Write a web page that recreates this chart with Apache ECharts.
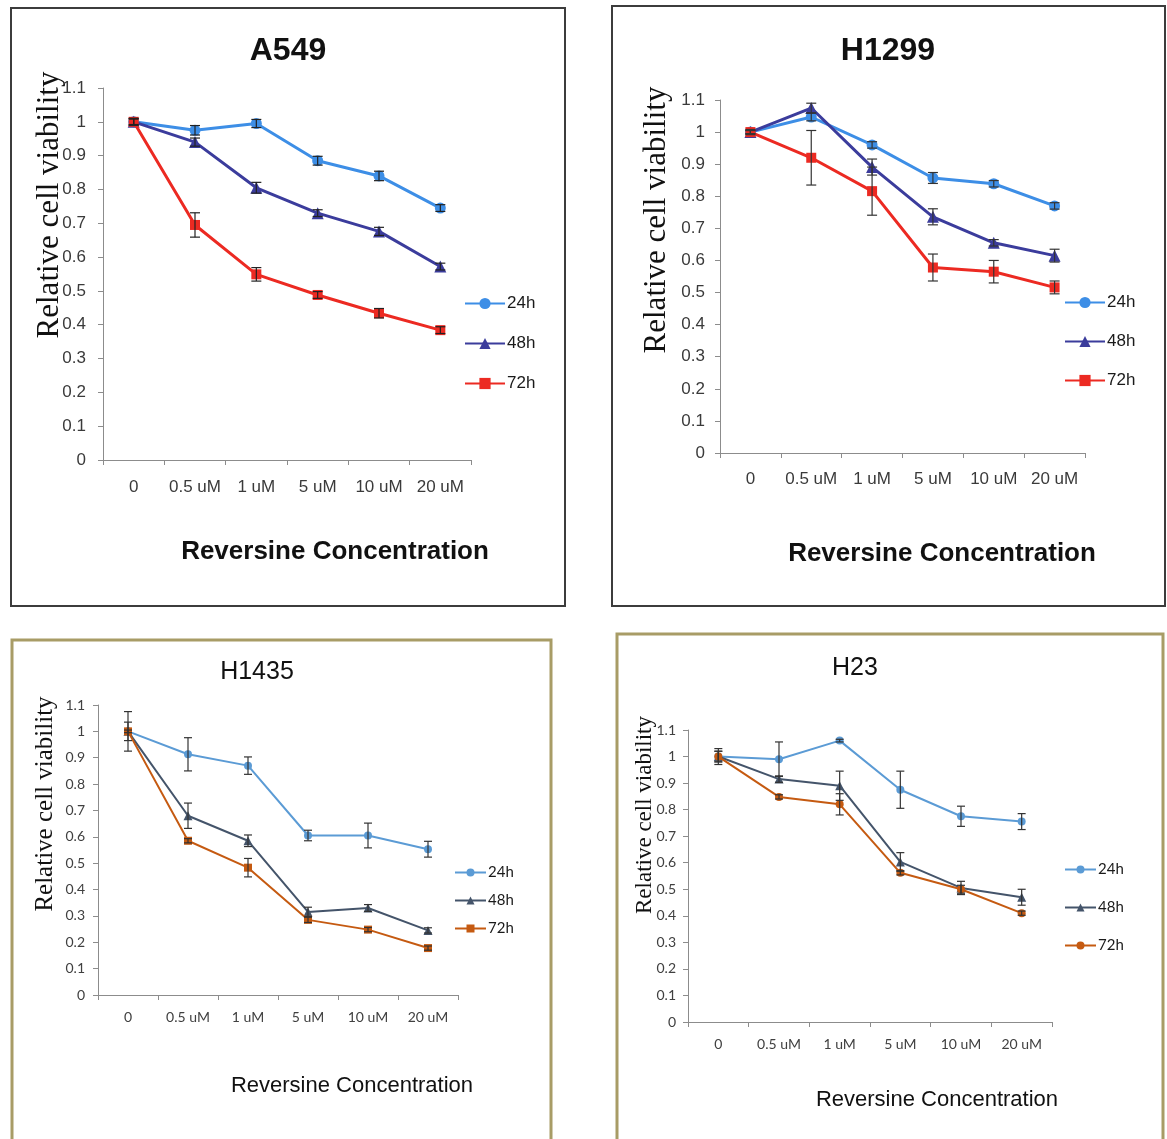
<!DOCTYPE html>
<html>
<head>
<meta charset="utf-8">
<style>
html,body{margin:0;padding:0;background:#fff;}
#c{width:1167px;height:1139px;}
</style>
<script src="https://cdn.jsdelivr.net/npm/echarts@6/dist/echarts.min.js"></script>
</head>
<body>
<div id="c"></div>
<script>
// ---------------- DATA ----------------
const categories = ['0', '0.5 uM', '1 uM', '5 uM', '10 uM', '20 uM'];
const seriesNames = ['24h', '48h', '72h'];
const yMin = 0, yMax = 1.1, yStep = 0.1;

const A549_24h = [1.00, 0.975, 0.995, 0.885, 0.840, 0.745];
const A549_48h = [1.00, 0.940, 0.805, 0.730, 0.676, 0.572];
const A549_72h = [1.00, 0.695, 0.549, 0.488, 0.434, 0.384];
const A549_24h_err = [0.010, 0.014, 0.012, 0.013, 0.014, 0.010];
const A549_48h_err = [0.008, 0.012, 0.016, 0.010, 0.012, 0.010];
const A549_72h_err = [0.010, 0.036, 0.020, 0.010, 0.014, 0.010];

const H1299_24h = [1.00, 1.047, 0.960, 0.857, 0.839, 0.770];
const H1299_48h = [1.00, 1.075, 0.891, 0.736, 0.655, 0.615];
const H1299_72h = [1.00, 0.920, 0.816, 0.578, 0.565, 0.516];
const H1299_24h_err = [0.005, 0.012, 0.010, 0.017, 0.010, 0.010];
const H1299_48h_err = [0.005, 0.015, 0.025, 0.025, 0.010, 0.020];
const H1299_72h_err = [0.008, 0.085, 0.075, 0.042, 0.035, 0.020];

const H1435_24h = [1.00, 0.913, 0.870, 0.605, 0.605, 0.553];
const H1435_48h = [1.00, 0.680, 0.585, 0.315, 0.330, 0.245];
const H1435_72h = [1.00, 0.585, 0.483, 0.285, 0.248, 0.178];
const H1435_24h_err = [0.075, 0.063, 0.033, 0.020, 0.047, 0.030];
const H1435_48h_err = [0.035, 0.048, 0.022, 0.018, 0.013, 0.010];
const H1435_72h_err = [0.005, 0.008, 0.035, 0.010, 0.008, 0.008];

const H23_24h = [1.00, 0.990, 1.060, 0.875, 0.775, 0.755];
const H23_48h = [1.00, 0.915, 0.890, 0.603, 0.505, 0.470];
const H23_72h = [1.00, 0.848, 0.820, 0.562, 0.500, 0.410];
const H23_24h_err = [0.020, 0.065, 0.005, 0.070, 0.038, 0.030];
const H23_48h_err = [0.030, 0.012, 0.055, 0.035, 0.025, 0.030];
const H23_72h_err = [0.020, 0.008, 0.040, 0.008, 0.015, 0.008];

// ---------------- LAYOUT / STYLE ----------------
const topColors = ['#3d8ee6', '#3b3c9c', '#ec2a22'];
const botColors = ['#5b9bd5', '#44546a', '#c55a11'];

const panels = [
  {
    id: 'A549', values: [A549_24h, A549_48h, A549_72h], errs: [A549_24h_err, A549_48h_err, A549_72h_err],
    colors: topColors, symbols: ['circle', 'triangle', 'rect'], symSizes: [11, 12, 10], lineWidth: 3,
    grid: { left: 103, top: 88, width: 368, height: 372 },
    tickFont: { fontFamily: 'Liberation Sans', fontSize: 17, color: '#3a3a3a' }, yMargin: 17, xMargin: 19,
    legend: { left: 459, top: 290, itemWidth: 40, itemHeight: 14, itemGap: 23, fontSize: 17, fontFamily: 'Liberation Sans' },
    box: { x: 11, y: 8, w: 554, h: 598, stroke: '#3c3c3c', lw: 2 },
    title: { text: 'A549', x: 288, y: 51, font: 'bold 32px "Liberation Sans"' },
    ytitle: { x: 50, y: 205, font: '31px "Liberation Serif"' },
    xtitle: { x: 335, y: 552, font: 'bold 26px "Liberation Sans"' },
    errColor: '#222', cap: 5
  },
  {
    id: 'H1299', values: [H1299_24h, H1299_48h, H1299_72h], errs: [H1299_24h_err, H1299_48h_err, H1299_72h_err],
    colors: topColors, symbols: ['circle', 'triangle', 'rect'], symSizes: [11, 12, 10], lineWidth: 3,
    grid: { left: 720, top: 100, width: 365, height: 353 },
    tickFont: { fontFamily: 'Liberation Sans', fontSize: 17, color: '#3a3a3a' }, yMargin: 15, xMargin: 18,
    legend: { left: 1059, top: 289, itemWidth: 40, itemHeight: 14, itemGap: 22, fontSize: 17, fontFamily: 'Liberation Sans' },
    box: { x: 612, y: 6, w: 553, h: 600, stroke: '#3c3c3c', lw: 2 },
    title: { text: 'H1299', x: 888, y: 51, font: 'bold 32px "Liberation Sans"' },
    ytitle: { x: 657, y: 220, font: '31px "Liberation Serif"' },
    xtitle: { x: 942, y: 554, font: 'bold 26px "Liberation Sans"' },
    errColor: '#333', cap: 5
  },
  {
    id: 'H1435', values: [H1435_24h, H1435_48h, H1435_72h], errs: [H1435_24h_err, H1435_48h_err, H1435_72h_err],
    colors: botColors, symbols: ['circle', 'triangle', 'rect'], symSizes: [8, 9, 8], lineWidth: 2,
    grid: { left: 98, top: 705, width: 360, height: 290 },
    tickFont: { fontFamily: 'Lato', fontSize: 14, color: '#404040' }, yMargin: 13, xMargin: 15,
    legend: { left: 449, top: 860, itemWidth: 31, itemHeight: 10, itemGap: 13, fontSize: 15, fontFamily: 'Lato' },
    box: { x: 12, y: 640, w: 539, h: 520, stroke: '#a89c66', lw: 3 },
    title: { text: 'H1435', x: 257, y: 672, font: '25px "Liberation Sans"' },
    ytitle: { x: 45, y: 804, font: '25px "Liberation Serif"' },
    xtitle: { x: 352, y: 1086, font: '22px "Liberation Sans"' },
    errColor: '#333', cap: 4
  },
  {
    id: 'H23', values: [H23_24h, H23_48h, H23_72h], errs: [H23_24h_err, H23_48h_err, H23_72h_err],
    colors: botColors, symbols: ['circle', 'triangle', 'circle'], symSizes: [8, 9, 8], lineWidth: 2,
    grid: { left: 688, top: 730, width: 364, height: 292 },
    tickFont: { fontFamily: 'Lato', fontSize: 14, color: '#404040' }, yMargin: 12, xMargin: 15,
    legend: { left: 1059, top: 857, itemWidth: 31, itemHeight: 10, itemGap: 23, fontSize: 15, fontFamily: 'Lato' },
    box: { x: 617, y: 634, w: 546, h: 530, stroke: '#a89c66', lw: 3 },
    title: { text: 'H23', x: 855, y: 668, font: '25px "Liberation Sans"' },
    ytitle: { x: 645, y: 815, font: '23px "Liberation Serif"' },
    xtitle: { x: 937, y: 1100, font: '22px "Liberation Sans"' },
    errColor: '#333', cap: 4
  }
];

// ---------------- BUILD OPTION ----------------
const grids = [], xAxes = [], yAxes = [], legends = [], series = [], graphics = [];

panels.forEach((p, pi) => {
  grids.push(Object.assign({ containLabel: false }, p.grid));
  xAxes.push({
    type: 'category', gridIndex: pi, data: categories, boundaryGap: true,
    axisLine: { lineStyle: { color: '#8c8c8c', width: 1 } },
    axisTick: { show: true, length: 5, lineStyle: { color: '#8c8c8c' } },
    axisLabel: Object.assign({ margin: p.xMargin, interval: 0 }, p.tickFont),
    splitLine: { show: false }
  });
  yAxes.push({
    type: 'value', gridIndex: pi, min: yMin, max: yMax, interval: yStep,
    axisLine: { show: true, lineStyle: { color: '#8c8c8c', width: 1 } },
    axisTick: { show: true, length: 5, lineStyle: { color: '#8c8c8c' } },
    axisLabel: Object.assign({ margin: p.yMargin, formatter: v => String(+v.toFixed(1)) }, p.tickFont),
    splitLine: { show: false }
  });
  const legendData = [];
  seriesNames.forEach((sn, si) => {
    const name = p.id + '|' + sn;
    legendData.push(name);
    series.push({
      type: 'line', name: name, xAxisIndex: pi, yAxisIndex: pi,
      data: p.values[si],
      symbol: p.symbols[si], symbolSize: p.symSizes[si],
      lineStyle: { color: p.colors[si], width: p.lineWidth },
      itemStyle: { color: p.colors[si], borderWidth: 0 },
      z: 3 + si
    });
  });
  seriesNames.forEach((sn, si) => {
    const vals = p.values[si], errs = p.errs[si];
    series.push({
      type: 'custom', name: p.id + '|err' + sn, xAxisIndex: pi, yAxisIndex: pi,
      data: vals.map((v, i) => [i, v - errs[i], v + errs[i]]),
      encode: { x: 0, y: [1, 2] },
      clip: false, z: 8,
      renderItem: (params, api) => {
        const hi = api.coord([api.value(0), api.value(2)]);
        const lo = api.coord([api.value(0), api.value(1)]);
        const c = p.cap;
        const st = { stroke: p.errColor, lineWidth: 1.2 };
        return {
          type: 'group', children: [
            { type: 'line', shape: { x1: hi[0], y1: hi[1], x2: lo[0], y2: lo[1] }, style: st },
            { type: 'line', shape: { x1: hi[0] - c, y1: hi[1], x2: hi[0] + c, y2: hi[1] }, style: st },
            { type: 'line', shape: { x1: lo[0] - c, y1: lo[1], x2: lo[0] + c, y2: lo[1] }, style: st }
          ]
        };
      }
    });
  });
  legends.push({
    data: legendData, orient: 'vertical', left: p.legend.left, top: p.legend.top,
    itemWidth: p.legend.itemWidth, itemHeight: p.legend.itemHeight, itemGap: p.legend.itemGap,
    formatter: n => n.split('|')[1], selectedMode: false,
    textStyle: { fontSize: p.legend.fontSize, fontFamily: p.legend.fontFamily, color: '#1a1a1a', padding: [0, 0, 0, -3] }
  });
  graphics.push({
    type: 'rect', shape: { x: p.box.x, y: p.box.y, width: p.box.w, height: p.box.h },
    style: { fill: 'none', stroke: p.box.stroke, lineWidth: p.box.lw }, silent: true, z: -1
  });
  graphics.push({
    type: 'text', x: p.title.x, y: p.title.y,
    style: { text: p.title.text, font: p.title.font, fill: '#111', align: 'center', verticalAlign: 'middle', textAlign: 'center', textVerticalAlign: 'middle' }
  });
  graphics.push({
    type: 'text', x: p.ytitle.x, y: p.ytitle.y, rotation: Math.PI / 2,
    style: { text: 'Relative cell viability', font: p.ytitle.font, fill: '#111', align: 'center', verticalAlign: 'middle', textAlign: 'center', textVerticalAlign: 'middle' }
  });
  graphics.push({
    type: 'text', x: p.xtitle.x, y: p.xtitle.y,
    style: { text: 'Reversine Concentration', font: p.xtitle.font, fill: '#111', align: 'center', verticalAlign: 'middle', textAlign: 'center', textVerticalAlign: 'middle' }
  });
});

const chart = echarts.init(document.getElementById('c'), null, { renderer: 'canvas', width: 1167, height: 1139 });
chart.setOption({
  backgroundColor: '#ffffff',
  animation: false,
  grid: grids, xAxis: xAxes, yAxis: yAxes, legend: legends, series: series,
  graphic: { elements: graphics }
});
</script>
</body>
</html>
